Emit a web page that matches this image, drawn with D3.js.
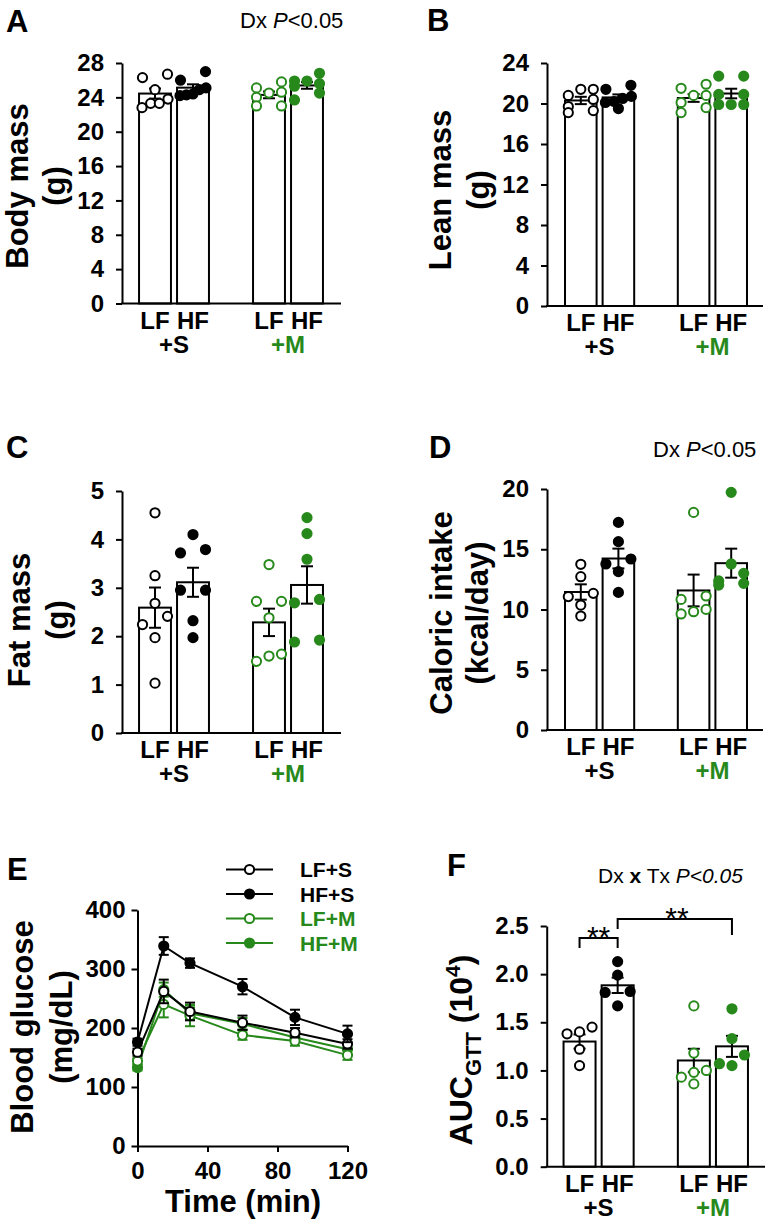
<!DOCTYPE html>
<html><head><meta charset="utf-8">
<script src="https://cdn.jsdelivr.net/npm/d3@7"></script>
<style>
body{margin:0;background:#fff;}
svg{display:block;}
text{white-space:pre;}
</style></head><body>
<script>
// ---------------- DATA ----------------
const groups = ["LF+S", "HF+S", "LF+M", "HF+M"];
const dietLabels = ["LF", "HF", "LF", "HF"];
const txLabels = ["+S", "+M"];

// A: Body mass (g), one array per group (LF+S, HF+S, LF+M, HF+M)
const bodyMass = [
  [26.7, 26.3, 24.9, 23.8, 23.3, 23.3, 22.8],
  [27.0, 26.0, 25.1, 24.9, 24.4, 24.3, 24.2],
  [25.8, 25.1, 24.6, 24.5, 24.0, 23.0, 23.0],
  [26.8, 25.9, 25.9, 25.6, 25.3, 24.5, 23.7]
];
const bodyMassTicks = [0, 4, 8, 12, 16, 20, 24, 28];

// B: Lean mass (g)
const leanMass = [
  [21.4, 21.4, 20.8, 20.4, 19.7, 19.3, 19.1],
  [21.8, 21.4, 20.7, 20.5, 20.2, 20.1, 19.5],
  [21.9, 21.5, 20.8, 20.8, 20.1, 19.6, 19.1],
  [22.7, 22.7, 20.9, 20.9, 19.9, 19.9, 19.9]
];
const leanMassTicks = [0, 4, 8, 12, 16, 20, 24];

// C: Fat mass (g)
const fatMass = [
  [4.55, 3.25, 2.68, 2.41, 2.24, 1.97, 1.03],
  [4.10, 3.79, 3.72, 2.95, 2.95, 2.32, 1.97],
  [3.48, 2.72, 2.72, 2.38, 1.63, 1.59, 1.48],
  [4.45, 4.12, 3.59, 2.76, 2.69, 1.92, 1.88]
];
const fatMassTicks = [0, 1, 2, 3, 4, 5];

// D: Caloric intake (kcal/day)
const caloricIntake = [
  [13.75, 12.72, 11.34, 11.07, 10.37, 9.46],
  [17.23, 15.63, 14.19, 13.78, 13.14, 11.42],
  [18.06, 11.12, 10.84, 10.01, 9.82, 9.63],
  [19.72, 13.78, 13.0, 12.37, 12.17, 12.03]
];
const caloricTicks = [0, 5, 10, 15, 20];

// E: GTT blood glucose (mg/dL), mean and SEM
const gttTimes = [0, 15, 30, 60, 90, 120];
const gttLFS = [159, 262, 228, 209, 192, 173];
const gttLFSerr = [6, 20, 15, 12, 8, 8];
const gttHFS = [176, 339, 310, 270, 218, 190];
const gttHFSerr = [6, 15, 8, 13, 13, 14];
const gttLFM = [144, 240, 221, 188, 178, 154];
const gttLFMerr = [5, 22, 18, 8, 8, 8];
const gttHFM = [133, 265, 225, 207, 184, 164];
const gttHFMerr = [5, 12, 10, 10, 8, 8];
const gttYTicks = [0, 100, 200, 300, 400];
const gttXTicks = [0, 40, 80, 120];

// F: AUC GTT (10^4)
const aucGTT = [
  [1.45, 1.40, 1.38, 1.22, 1.05],
  [2.13, 1.99, 1.82, 1.81, 1.67],
  [1.67, 1.18, 1.00, 0.98, 0.93, 0.86],
  [1.64, 1.33, 1.16, 1.07, 1.05]
];
const aucTicks = [0, 0.5, 1.0, 1.5, 2.0, 2.5];

// ---------------- DRAWING ----------------
const W = 767, H = 1227;
const GREEN = "#27891b";
const FONT = "'Liberation Sans', Arial, Helvetica, sans-serif";
const svg = d3.select("body").append("svg")
  .attr("width", W).attr("height", H)
  .attr("font-family", FONT)
  .style("background", "#fff");
svg.append("rect").attr("width", W).attr("height", H).attr("fill", "#fff");

const colorOf = i => (i < 2 ? "#000" : GREEN);
const filledOf = i => i % 2 === 1;

function letter(x, y, s) {
  svg.append("text").attr("x", x).attr("y", y).attr("font-size", 31)
    .attr("font-weight", "bold").text(s);
}
function note(x, y, parts, size) {
  const t = svg.append("text").attr("x", x).attr("y", y).attr("font-size", size).attr("fill", "#000");
  parts.forEach(([s, st]) => {
    const ts = t.append("tspan").text(s);
    if (st.includes("i")) ts.attr("font-style", "italic");
    if (st.includes("b")) ts.attr("font-weight", "bold");
  });
}
function yTitle(lines, cy, size) {
  lines.forEach(([s, x]) => {
    svg.append("text").attr("transform", `translate(${x},${cy}) rotate(-90)`)
      .attr("text-anchor", "middle").attr("font-size", size || 31)
      .attr("font-weight", "bold").text(s);
  });
}
function styleAxis(sel) {
  sel.attr("font-family", FONT).attr("font-size", 24).attr("font-weight", "bold");
  sel.select(".domain").attr("stroke", "#000").attr("stroke-width", 2);
  sel.selectAll(".tick line").attr("stroke", "#000").attr("stroke-width", 2);
  sel.selectAll(".tick text").attr("fill", "#000");
}

function swarmOffsets(vals, y, step, thr, maxHalf) {
  const idx = vals.map((v, i) => i).sort((a, b) => vals[b] - vals[a]);
  const off = new Array(vals.length).fill(0);
  let row = [];
  const flush = () => {
    const n = row.length;
    if (!n) return;
    row.sort((a, b) => vals[a] - vals[b]);
    if (n === 2) { off[row[0]] = -step; off[row[1]] = step; }
    else {
      const s = n > 1 ? Math.min(step, 2 * maxHalf / (n - 1)) : step;
      row.forEach((k, j) => { off[k] = (j - (n - 1) / 2) * s; });
    }
    row = [];
  };
  idx.forEach(k => {
    if (row.length && Math.abs(y(vals[k]) - y(vals[row[0]])) >= thr) flush();
    row.push(k);
  });
  flush();
  return off;
}

function barPanel(o) {
  const g = svg.append("g");
  const xb = d3.scaleBand().domain(["0", "1", "gap", "2", "3"])
    .range(o.xRange).paddingInner(0.16).paddingOuter(0.08);
  const bw = xb.bandwidth();
  const cx = i => xb(String(i)) + bw / 2;
  const y = d3.scaleLinear().domain([0, o.ticks[o.ticks.length - 1]]).range([o.y0, o.y1]);
  const stats = o.data.map(v => ({ m: d3.mean(v), s: d3.deviation(v) / Math.sqrt(v.length) }));

  // bars
  g.selectAll("rect.bar").data(stats).join("rect")
    .attr("x", (d, i) => xb(String(i))).attr("y", d => y(d.m))
    .attr("width", bw).attr("height", d => y(0) - y(d.m))
    .attr("fill", "#fff").attr("stroke", "#000").attr("stroke-width", 2);

  // axes
  const ax = g.append("g").attr("transform", `translate(${o.axisX},0)`)
    .call(d3.axisLeft(y).tickValues(o.ticks).tickSize(6).tickPadding(12)
      .tickSizeOuter(0).tickFormat(o.fmt || d3.format("d")));
  styleAxis(ax);
  g.append("line").attr("x1", o.axisX - 1).attr("x2", o.xEnd)
    .attr("y1", y(0)).attr("y2", y(0)).attr("stroke", "#000").attr("stroke-width", 2);

  // error bars
  stats.forEach((d, i) => {
    const x = cx(i);
    const e = g.append("g").attr("stroke", "#000").attr("stroke-width", 2);
    e.append("line").attr("x1", x).attr("x2", x).attr("y1", y(d.m - d.s)).attr("y2", y(d.m + d.s));
    [d.m - d.s, d.m + d.s].forEach(v => e.append("line")
      .attr("x1", x - 6).attr("x2", x + 6).attr("y1", y(v)).attr("y2", y(v)));
  });

  // points
  o.data.forEach((vals, i) => {
    const off = swarmOffsets(vals, y, 12.5, 9, 13);
    g.selectAll(null).data(vals).join("circle")
      .attr("cx", (v, k) => cx(i) + off[k]).attr("cy", v => y(v)).attr("r", 4.6)
      .attr("fill", filledOf(i) ? colorOf(i) : "#fff")
      .attr("stroke", colorOf(i)).attr("stroke-width", 2);
  });

  // category labels
  dietLabels.forEach((s, i) => {
    g.append("text").attr("x", cx(i)).attr("y", o.y0 + 25).attr("text-anchor", "middle")
      .attr("font-size", 24).attr("font-weight", "bold").text(s);
  });
  txLabels.forEach((s, j) => {
    g.append("text").attr("x", (cx(2 * j) + cx(2 * j + 1)) / 2).attr("y", o.y0 + 49)
      .attr("text-anchor", "middle").attr("font-size", 24).attr("font-weight", "bold")
      .attr("fill", j === 0 ? "#000" : GREEN).text(s);
  });
  return { cx, y };
}

// Panel A
letter(6, 32, "A");
note(240, 28, [["Dx ", ""], ["P", "i"], ["<0.05", ""]], 22);
yTitle([["Body mass", 28], ["(g)", 65]], 186);
barPanel({ data: bodyMass, ticks: bodyMassTicks, xRange: [136, 326], axisX: 122, xEnd: 341, y0: 303.5, y1: 63 });

// Panel B
letter(427, 31, "B");
yTitle([["Lean mass", 451], ["(g)", 489]], 190);
barPanel({ data: leanMass, ticks: leanMassTicks, xRange: [562, 750], axisX: 547, xEnd: 763, y0: 306, y1: 63 });

// Panel C
letter(6, 458, "C");
yTitle([["Fat mass", 30], ["(g)", 68]], 620);
barPanel({ data: fatMass, ticks: fatMassTicks, xRange: [136, 326], axisX: 122, xEnd: 341, y0: 733, y1: 491 });

// Panel D
letter(429, 458, "D");
note(653, 457, [["Dx ", ""], ["P", "i"], ["<0.05", ""]], 22);
yTitle([["Caloric intake", 452], ["(kcal/day)", 488]], 613);
barPanel({ data: caloricIntake, ticks: caloricTicks, xRange: [562, 750], axisX: 547, xEnd: 763, y0: 730, y1: 489 });

// Panel E (line chart)
letter(7, 880, "E");
yTitle([["Blood glucose", 33], ["(mg/dL)", 72]], 1027);
{
  const x = d3.scaleLinear().domain([0, 120]).range([137.5, 347.5]);
  const y = d3.scaleLinear().domain([0, 400]).range([1146, 910]);
  const g = svg.append("g");
  const ay = g.append("g").attr("transform", `translate(${x(0)},0)`)
    .call(d3.axisLeft(y).tickValues(gttYTicks).tickSize(6).tickPadding(6).tickSizeOuter(0));
  styleAxis(ay);
  const axb = g.append("g").attr("transform", `translate(0,${y(0)})`)
    .call(d3.axisBottom(x).tickValues(gttXTicks).tickSize(6).tickPadding(10).tickSizeOuter(0));
  styleAxis(axb);
  svg.append("text").attr("x", 243).attr("y", 1212).attr("text-anchor", "middle")
    .attr("font-size", 31).attr("font-weight", "bold").text("Time (min)");

  const series = [
    { v: gttHFM, e: gttHFMerr, c: GREEN, f: true },
    { v: gttLFM, e: gttLFMerr, c: GREEN, f: false },
    { v: gttLFS, e: gttLFSerr, c: "#000", f: false },
    { v: gttHFS, e: gttHFSerr, c: "#000", f: true }
  ];
  const line = d3.line().x((d, i) => x(gttTimes[i])).y(d => y(d));
  series.forEach(s => {
    const sg = g.append("g");
    sg.append("path").attr("d", line(s.v)).attr("fill", "none")
      .attr("stroke", s.c).attr("stroke-width", 2);
    s.v.forEach((v, i) => {
      const xx = x(gttTimes[i]);
      const eb = sg.append("g").attr("stroke", s.c).attr("stroke-width", 2);
      eb.append("line").attr("x1", xx).attr("x2", xx).attr("y1", y(v - s.e[i])).attr("y2", y(v + s.e[i]));
      [v - s.e[i], v + s.e[i]].forEach(w => eb.append("line")
        .attr("x1", xx - 5).attr("x2", xx + 5).attr("y1", y(w)).attr("y2", y(w)));
    });
    sg.selectAll("circle").data(s.v).join("circle")
      .attr("cx", (d, i) => x(gttTimes[i])).attr("cy", d => y(d)).attr("r", 4.6)
      .attr("fill", s.f ? s.c : "#fff").attr("stroke", s.c).attr("stroke-width", 2);
  });

  // legend
  const leg = [
    { t: groups[0], c: "#000", f: false },
    { t: groups[1], c: "#000", f: true },
    { t: groups[2], c: GREEN, f: false },
    { t: groups[3], c: GREEN, f: true }
  ];
  const ly = [869.5, 894, 918.5, 943];
  leg.forEach((d, i) => {
    svg.append("line").attr("x1", 226).attr("x2", 273).attr("y1", ly[i]).attr("y2", ly[i])
      .attr("stroke", d.c).attr("stroke-width", 2);
    svg.append("circle").attr("cx", 249.5).attr("cy", ly[i]).attr("r", 4.6)
      .attr("fill", d.f ? d.c : "#fff").attr("stroke", d.c).attr("stroke-width", 2);
    svg.append("text").attr("x", 300).attr("y", ly[i] + 7.5).attr("font-size", 21)
      .attr("font-weight", "bold").attr("fill", d.c).text(d.t);
  });
}

// Panel F
letter(447, 876, "F");
note(598, 883, [["Dx ", ""], ["x", "b"], [" Tx ", ""], ["P<0.05", "i"]], 21);
{
  const t = svg.append("text").attr("transform", "translate(472,1050) rotate(-90)")
    .attr("text-anchor", "middle").attr("font-size", 32).attr("font-weight", "bold");
  t.append("tspan").text("AUC");
  t.append("tspan").attr("font-size", 22).attr("dy", 9).text("GTT");
  t.append("tspan").attr("dy", -9).text(" (10");
  t.append("tspan").attr("font-size", 21).attr("dy", -12).text("4");
  t.append("tspan").attr("dy", 12).text(")");
}
{
  const p = barPanel({ data: aucGTT, ticks: aucTicks, fmt: d3.format(".1f"), xRange: [560.5, 751], axisX: 546.7, xEnd: 765, y0: 1166.7, y1: 926 });
  const b = svg.append("g").attr("stroke", "#000").attr("stroke-width", 2).attr("fill", "none");
  const x0 = p.cx(0), x1 = p.cx(1), x3 = p.cx(3);
  b.append("path").attr("d", `M${x0},948V938H${x1}V948`);
  b.append("path").attr("d", `M${x1},929V919H${x3}V935`);
  svg.append("text").attr("x", (x0 + x1) / 2).attr("y", 947).attr("text-anchor", "middle")
    .attr("font-size", 30).text("**");
  svg.append("text").attr("x", 677).attr("y", 928).attr("text-anchor", "middle")
    .attr("font-size", 30).text("**");
}
</script>
</body></html>
